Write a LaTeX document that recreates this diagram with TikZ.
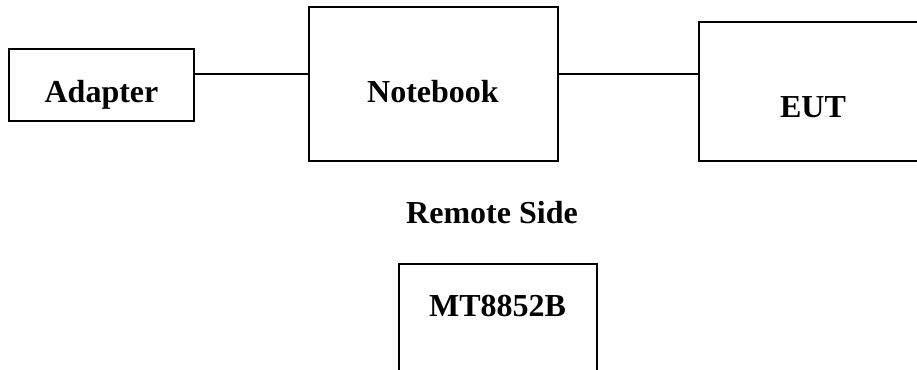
\documentclass[tikz,border=0pt]{standalone}
\usepackage{fontspec}
\setmainfont{Liberation Serif}

\begin{document}
\begin{tikzpicture}[x=0.75pt, y=-0.75pt,
    box/.style={draw, line width=0.9pt, inner sep=0pt},
    wire/.style={line width=0.9pt},
    lbl/.style={font=\fontsize{24}{28}\selectfont\bfseries, anchor=base, inner sep=0pt}]
    % page frame
    \clip (0,0) rectangle (917,369);

    % test setup boxes
    \node[box, minimum width=138.75pt, minimum height=54pt] (adapter) at (101.5,85) {};
    \node[box, minimum width=186.75pt, minimum height=115.5pt] (notebook) at (433.5,84) {};
    \node[box, minimum width=171pt, minimum height=104.25pt] (eut) at (813,91.5) {};
    \node[box, minimum width=148.5pt, minimum height=105pt] (tester) at (498,334) {};

    % labels
    \node[lbl] (adapterlbl) at (101.5,102) {Adapter};
    \node[lbl] (notebooklbl) at (433,102) {Notebook};
    \node[lbl] (eutlbl) at (813,117) {EUT};
    \node[lbl] (remote) at (492,223) {Remote Side};
    \node[lbl] (testerlbl) at (497.5,316) {MT8852B};

    % cables
    \coordinate (bus) at (0,74);
    \draw[wire] (adapter.east |- bus) -- (notebook.west |- bus);
    \draw[wire] (notebook.east |- bus) -- (eut.west |- bus);
\end{tikzpicture}
\end{document}
